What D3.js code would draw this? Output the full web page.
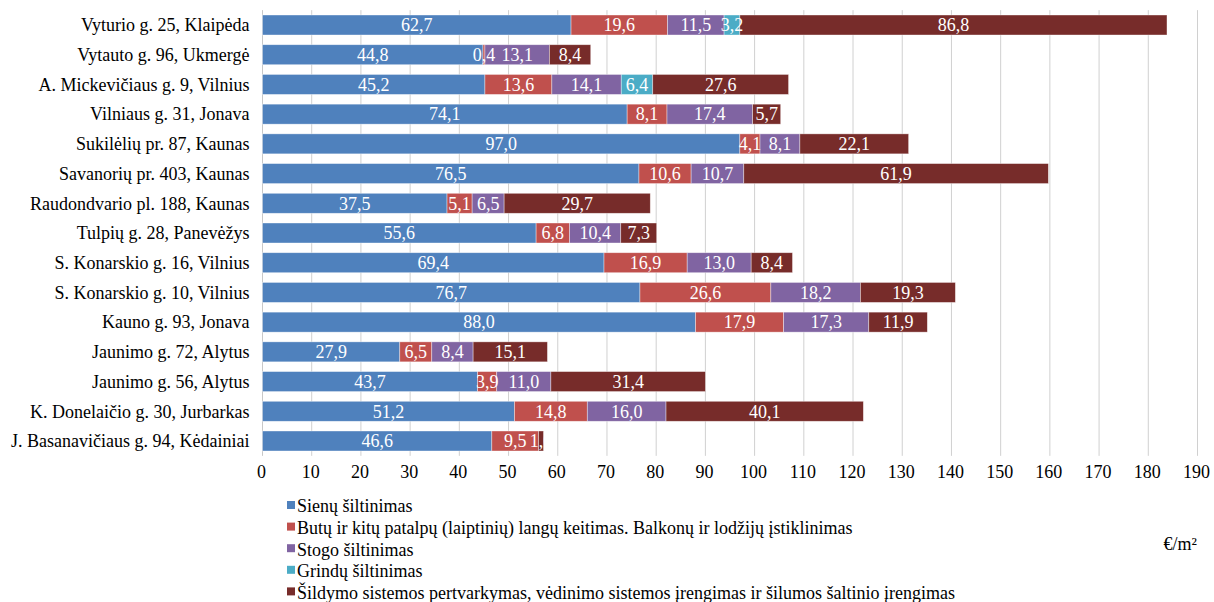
<!DOCTYPE html>
<html>
<head>
<meta charset="utf-8">
<script src="https://cdn.jsdelivr.net/npm/d3@7"></script>
<style>
  html, body { margin: 0; padding: 0; background: #fff; }
  svg { display: block; }
</style>
</head>
<body>
<svg id="chart" width="1214" height="602"></svg>
<script>
// Renovated apartment buildings
const buildings = [
  "Vyturio g. 25, Klaipėda",
  "Vytauto g. 96, Ukmergė",
  "A. Mickevičiaus g. 9, Vilnius",
  "Vilniaus g. 31, Jonava",
  "Sukilėlių pr. 87, Kaunas",
  "Savanorių pr. 403, Kaunas",
  "Raudondvario pl. 188, Kaunas",
  "Tulpių g. 28, Panevėžys",
  "S. Konarskio g. 16, Vilnius",
  "S. Konarskio g. 10, Vilnius",
  "Kauno g. 93, Jonava",
  "Jaunimo g. 72, Alytus",
  "Jaunimo g. 56, Alytus",
  "K. Donelaičio g. 30, Jurbarkas",
  "J. Basanavičiaus g. 94, Kėdainiai"
];

// Cost per m² for each renovation measure (€/m²)
const walls    = [62.7, 44.8, 45.2, 74.1, 97.0, 76.5, 37.5, 55.6, 69.4, 76.7, 88.0, 27.9, 43.7, 51.2, 46.6];
const windows  = [19.6, 0.4, 13.6, 8.1, 4.1, 10.6, 5.1, 6.8, 16.9, 26.6, 17.9, 6.5, 3.9, 14.8, 9.5];
const roof     = [11.5, 13.1, 14.1, 17.4, 8.1, 10.7, 6.5, 10.4, 13.0, 18.2, 17.3, 8.4, 11.0, 16.0, 0];
const floors   = [3.2, 0, 6.4, 0, 0, 0, 0, 0, 0, 0, 0, 0, 0, 0, 0];
const heating  = [86.8, 8.4, 27.6, 5.7, 22.1, 61.9, 29.7, 7.3, 8.4, 19.3, 11.9, 15.1, 31.4, 40.1, 1.0];

const seriesNames = [
  "Sienų šiltinimas",
  "Butų ir kitų patalpų (laiptinių) langų keitimas. Balkonų ir lodžijų įstiklinimas",
  "Stogo šiltinimas",
  "Grindų šiltinimas",
  "Šildymo sistemos pertvarkymas, vėdinimo sistemos įrengimas ir šilumos šaltinio įrengimas"
];
const seriesKeys = ["walls", "windows", "roof", "floors", "heating"];
const seriesColors = ["#4F81BD", "#C0504D", "#8064A2", "#4BACC6", "#772C2A"];

const xTicks = d3.range(0, 191, 10);
const unitLabel = "€/m²";

// Table for the stack layout
const table = buildings.map((b, i) => ({
  name: b,
  walls: walls[i], windows: windows[i], roof: roof[i], floors: floors[i], heating: heating[i]
}));

const FONT = "Liberation Serif";
const FS = 18;
const svg = d3.select("#chart");
const plot = { left: 262.5, right: 1197.5, top: 10.15, bottom: 455.85 };

const x = d3.scaleLinear().domain([0, 190]).range([plot.left, plot.right]);
const y = d3.scaleBand().domain(buildings).range([plot.top, plot.bottom])
  .paddingInner(0.327).paddingOuter(0.1635);

const stack = d3.stack().keys(seriesKeys)(table);
const color = d3.scaleOrdinal().domain(seriesKeys).range(seriesColors);
const fmt = v => d3.format(".1f")(v).replace(".", ",");

// Apply the serif font to a text selection
const serif = sel => sel.style("font-family", FONT).style("font-size", FS + "px");

// Vertical gridlines
svg.append("g")
  .selectAll("line")
  .data(xTicks.slice(1))
  .join("line")
  .attr("x1", d => x(d)).attr("x2", d => x(d))
  .attr("y1", plot.top).attr("y2", plot.bottom)
  .attr("stroke", "#d0d0d0").attr("stroke-width", 1);

// Category axis line
svg.append("line")
  .attr("x1", x(0)).attr("x2", x(0))
  .attr("y1", plot.top).attr("y2", plot.bottom)
  .attr("stroke", "#c8c8c8").attr("stroke-width", 1);

// Bar end clip paths, so labels do not run past the end of a bar
const defs = svg.append("defs");
table.forEach((d, i) => {
  const total = d.walls + d.windows + d.roof + d.floors + d.heating;
  defs.append("clipPath").attr("id", "row" + i)
    .append("rect")
    .attr("x", 0).attr("y", 0)
    .attr("width", x(total) + 1).attr("height", 602);
});

// Stacked bars
const layers = svg.append("g").selectAll("g")
  .data(stack)
  .join("g")
  .attr("fill", d => color(d.key));

layers.selectAll("rect")
  .data(d => d.filter(s => s[1] - s[0] > 0))
  .join("rect")
  .attr("x", s => x(s[0]))
  .attr("y", s => y(s.data.name))
  .attr("width", s => x(s[1]) - x(s[0]))
  .attr("height", y.bandwidth())
  .attr("stroke", "#ffffff")
  .attr("stroke-opacity", 0.55)
  .attr("stroke-width", 0.7);

// Value labels
const labels = svg.append("g");
stack.forEach(layer => {
  layer.forEach((s, i) => {
    const v = s[1] - s[0];
    if (v <= 0) return;
    labels.append("text")
      .call(serif)
      .attr("fill", "#ffffff")
      .attr("text-anchor", "middle")
      .attr("clip-path", "url(#row" + i + ")")
      .attr("x", (x(s[0]) + x(s[1])) / 2)
      .attr("y", y(s.data.name) + y.bandwidth() / 2)
      .attr("dy", "0.35em")
      .text(fmt(v));
  });
});

// Category labels
svg.append("g")
  .selectAll("text")
  .data(buildings)
  .join("text")
  .call(serif)
  .attr("fill", "#000")
  .attr("text-anchor", "end")
  .attr("x", plot.left - 13)
  .attr("y", d => y(d) + y.bandwidth() / 2)
  .attr("dy", "0.35em")
  .text(d => d);

// Value axis tick labels
svg.append("g")
  .selectAll("text")
  .data(xTicks)
  .join("text")
  .call(serif)
  .attr("fill", "#000")
  .attr("text-anchor", "middle")
  .attr("x", d => x(d) - 1)
  .attr("y", 478)
  .text(d => d);

// Legend
const legend = svg.append("g");
seriesNames.forEach((name, i) => {
  const ly = 506 + i * 21.6;
  legend.append("rect")
    .attr("x", 287).attr("y", ly - 5).attr("width", 8).attr("height", 8)
    .attr("fill", seriesColors[i]);
  legend.append("text")
    .call(serif)
    .attr("fill", "#000")
    .attr("x", 297).attr("y", ly).attr("dy", "0.35em")
    .text(name);
});

// Unit label
svg.append("text")
  .call(serif)
  .attr("x", 1197).attr("y", 550)
  .attr("text-anchor", "end")
  .text(unitLabel);
</script>
</body>
</html>
